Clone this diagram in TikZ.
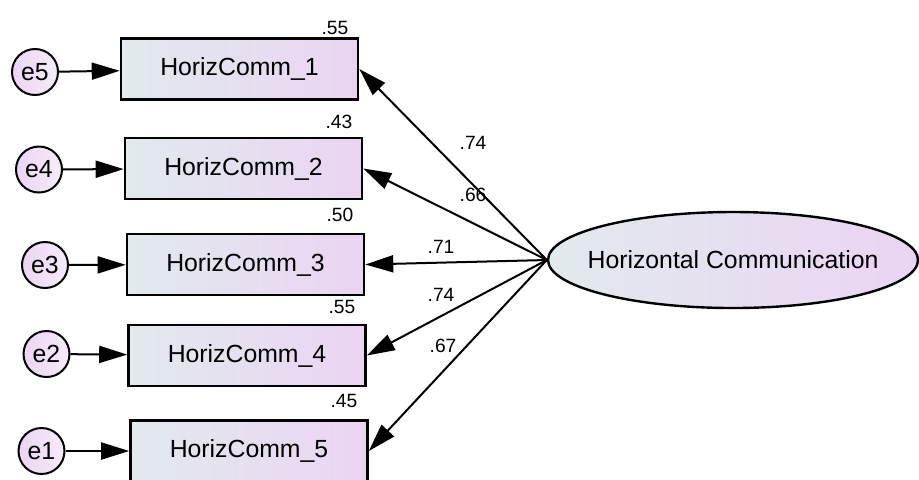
\documentclass[tikz,border=0pt]{standalone}
\usepackage{fontspec}
\setmainfont{Liberation Sans}
\usetikzlibrary{arrows.meta,shapes.geometric}

\definecolor{semleft}{RGB}{225,234,237}
\definecolor{semright}{RGB}{235,212,243}

\begin{document}
\begin{tikzpicture}[x=0.5pt, y=-0.5pt,
  every node/.style={font=\fontsize{12.4}{14}\selectfont},
  indicator/.style={draw, line width=1.3pt, left color=semleft, right color=semright,
    minimum width=118.5pt, minimum height=30.5pt, inner sep=0pt},
  errterm/.style={circle, draw, line width=1pt, left color=semright, right color=semright!45!white,
    minimum size=23pt, inner sep=0pt},
  latent/.style={ellipse, draw, line width=1.2pt, left color=semleft, right color=semright,
    minimum width=185pt, minimum height=48pt, inner sep=0pt},
  weight/.style={font=\fontsize{9.6}{11}\selectfont, inner sep=0pt},
  loading/.style={line width=1pt, -{Triangle[length=14pt,width=8.5pt]}}]
  % frame of the picture (box 5 runs off the bottom edge)
  \useasboundingbox (0,0) rectangle (919,479);
  % latent factor, text as a centre label so the ellipse keeps its size
  \node[latent, label=center:{Horizontal Communication}] (lv) at (733,260) {};
  % observed indicators
  \node[indicator] (h1) at (239.5,69) {HorizComm\_1};
  \node[indicator] (h2) at (243.5,168.5) {HorizComm\_2};
  \node[indicator] (h3) at (245.5,264.5) {HorizComm\_3};
  \node[indicator] (h4) at (247,355.5) {HorizComm\_4};
  \node[indicator] (h5) at (249,451) {HorizComm\_5};
  % error terms
  \node[errterm] (e5) at (35,72) {e5};
  \node[errterm] (e4) at (39,169.5) {e4};
  \node[errterm] (e3) at (45,265) {e3};
  \node[errterm] (e2) at (46.5,354) {e2};
  \node[errterm] (e1) at (41.5,451) {e1};
  % squared multiple correlations
  \node[weight] (r1) at (335,28) {.55};
  \node[weight] (r2) at (339,122) {.43};
  \node[weight] (r3) at (340,215) {.50};
  \node[weight] (r4) at (342,307) {.55};
  \node[weight] (r5) at (344,401) {.45};
  % standardized loadings
  \draw[loading] (lv.west) -- (h1.east);
  \draw[loading] (lv.west) -- (h2.east);
  \draw[loading] (lv.west) -- (h3.east);
  \draw[loading] (lv.west) -- (h4.east);
  \draw[loading] (lv.west) -- (h5.east);
  \node[weight] (l1) at (473,143) {.74};
  \node[weight] (l2) at (473,195) {.66};
  \node[weight] (l3) at (441,247) {.71};
  \node[weight] (l4) at (441,295) {.74};
  \node[weight] (l5) at (443,346) {.67};
  % error paths
  \draw[loading] (e5) -- (h1);
  \draw[loading] (e4) -- (h2);
  \draw[loading] (e3) -- (h3);
  \draw[loading] (e2) -- (h4);
  \draw[loading] (e1) -- (h5);
\end{tikzpicture}
\end{document}
